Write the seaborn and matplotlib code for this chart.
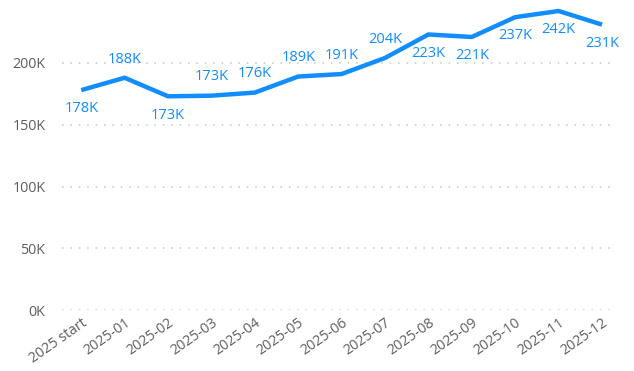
import matplotlib
matplotlib.use('Agg')
import matplotlib.pyplot as plt
import matplotlib.ticker as mticker
import seaborn as sns
import pandas as pd

# data
months = ['2025 start', '2025-01', '2025-02', '2025-03', '2025-04', '2025-05', '2025-06',
          '2025-07', '2025-08', '2025-09', '2025-10', '2025-11', '2025-12']
values = [178, 188, 173, 173.5, 176, 189, 191, 204, 223, 221, 237, 242, 231]
value_labels = ['178K', '188K', '173K', '173K', '176K', '189K', '191K',
                '204K', '223K', '221K', '237K', '242K', '231K']
label_side = ['below', 'above', 'below', 'above', 'above', 'above', 'above',
              'above', 'below', 'below', 'below', 'below', 'below']
y_ticks = [0, 50, 100, 150, 200]

sns.set_style('white')
plt.rcParams['font.family'] = ['Open Sans', 'DejaVu Sans']

blue = '#118DFF'
grey = '#605E5C'

df = pd.DataFrame({'month': months, 'value': [v * 1000 for v in values]})
df['pos'] = range(len(df))

fig = plt.figure(figsize=(6.34, 3.71), dpi=100)
ax = fig.add_axes([0.098, 0.164, 0.872, 0.833])

sns.lineplot(data=df, x='pos', y='value', ax=ax, color=blue, linewidth=3.2,
             solid_joinstyle='miter', solid_capstyle='butt')

for i, row in df.iterrows():
    dy = 13.5 if label_side[i] == 'above' else -13.5
    ax.annotate(value_labels[i], (row['pos'], row['value']), xytext=(0, dy),
                textcoords='offset points', ha='center', va='center',
                color=blue, fontsize=10.5)

ax.set_xlim(-0.44, 12.3)
ax.set_ylim(0, 250000)
ax.set_yticks([t * 1000 for t in y_ticks])
ax.yaxis.set_major_formatter(mticker.FuncFormatter(lambda v, p: f'{v / 1000:.0f}K'))
ax.set_xticks(df['pos'])
ax.set_xticklabels(months, rotation=35, ha='right', rotation_mode='anchor')
ax.tick_params(axis='both', colors=grey, labelsize=10.3, length=0)
ax.tick_params(axis='y', pad=12)
ax.tick_params(axis='x', pad=4)
ax.set_xlabel('')
ax.set_ylabel('')
ax.yaxis.grid(True, color='#C8C6C4', linestyle=(0, (1, 4.5)), linewidth=1.1)
ax.xaxis.grid(False)
sns.despine(ax=ax, left=True, bottom=True)

fig.savefig('out.png', dpi=100)
